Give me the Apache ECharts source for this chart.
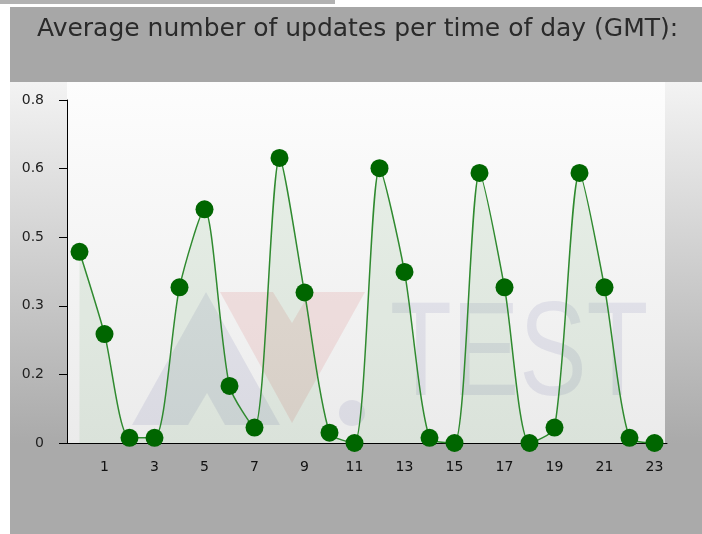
<!DOCTYPE html>
<html>
<head>
<meta charset="utf-8">
<style>
  html, body { margin: 0; padding: 0; background: #fff; }
  #chart { width: 702px; height: 534px; }
</style>
<script src="https://cdn.jsdelivr.net/npm/echarts@6/dist/echarts.min.js"></script>
</head>
<body>
<div id="chart"></div>
<script>
  // hours of the day (GMT)
  const hours = ['0', '1', '2', '3', '4', '5', '6', '7', '8', '9', '10', '11',
    '12', '13', '14', '15', '16', '17', '18', '19', '20', '21', '22', '23']
  // average number of updates per hour
  const updates = [0.446, 0.254, 0.012, 0.012, 0.363, 0.545, 0.133, 0.036,
    0.665, 0.351, 0.024, 0, 0.641, 0.399, 0.012, 0, 0.630, 0.363, 0, 0.036,
    0.630, 0.363, 0.012, 0]
  const yMax = 0.8
  const yStep = 0.16

  const chart = echarts.init(document.getElementById('chart'))

  const wmBlue = 'rgba(120,120,175,0.15)'
  const wmRed = 'rgba(215,90,90,0.14)'

  // background panels and the faint AV-TEST watermark
  const decor = [
    { type: 'rect', z: -5, shape: { x: 0, y: 0, width: 335, height: 4 }, style: { fill: '#b2b2b2' } },
    { type: 'rect', z: -5, shape: { x: 10, y: 7, width: 692, height: 75 }, style: { fill: '#a7a7a7' } },
    {
      type: 'rect', z: -5, shape: { x: 10, y: 82, width: 692, height: 452 },
      style: {
        fill: new echarts.graphic.LinearGradient(0, 0, 0, 1, [
          { offset: 0, color: '#f3f3f3' },
          { offset: 0.8, color: '#aaaaaa' },
          { offset: 1, color: '#aaaaaa' }
        ])
      }
    },
    {
      type: 'rect', z: -4, shape: { x: 67, y: 82, width: 598, height: 361 },
      style: {
        fill: new echarts.graphic.LinearGradient(0, 0, 0, 1, [
          { offset: 0, color: '#fdfdfd' },
          { offset: 1, color: '#ebebeb' }
        ])
      }
    },
    {
      type: 'polygon', z: -3,
      shape: { points: [[132, 425], [206, 292], [280, 425], [225, 425], [207, 393], [188, 425]] },
      style: { fill: wmBlue }
    },
    {
      type: 'polygon', z: -3,
      shape: { points: [[220, 292], [273, 292], [292, 323], [310, 292], [365, 292], [292, 423]] },
      style: { fill: wmRed }
    },
    { type: 'circle', z: -3, shape: { cx: 352, cy: 413, r: 13 }, style: { fill: wmBlue } },
    {
      type: 'text', z: -3, x: 390, y: 425, scaleX: 0.76,
      style: {
        text: 'TEST', fontFamily: 'Liberation Sans', fontSize: 133,
        fill: wmBlue, verticalAlign: 'bottom'
      }
    }
  ]

  const option = {
    animation: false,
    title: {
      text: 'Average number of updates per time of day (GMT):',
      left: 32,
      top: 12,
      padding: 5,
      textStyle: {
        fontFamily: 'DejaVu Sans',
        fontSize: 25,
        fontWeight: 'normal',
        color: '#2a2a2a'
      }
    },
    graphic: decor,
    grid: {
      left: 67,
      right: 35,
      top: 100,
      bottom: 91,
      containLabel: false
    },
    xAxis: {
      type: 'category',
      data: hours,
      boundaryGap: true,
      axisLine: { lineStyle: { color: '#000', width: 1 } },
      axisTick: {
        alignWithLabel: true,
        length: 8,
        interval: function (i) { return i % 2 === 1 },
        lineStyle: { color: '#000' }
      },
      axisLabel: {
        interval: function (i) { return i % 2 === 1 },
        margin: 17,
        fontFamily: 'DejaVu Sans',
        fontSize: 14,
        color: '#111'
      },
      splitLine: { show: false }
    },
    yAxis: {
      type: 'value',
      min: 0,
      max: yMax,
      interval: yStep,
      axisLine: { show: true, lineStyle: { color: '#000', width: 1 } },
      axisTick: { show: true, length: 8, lineStyle: { color: '#000' } },
      axisLabel: {
        margin: 23,
        fontFamily: 'DejaVu Sans',
        fontSize: 14,
        color: '#222',
        formatter: function (v) { return v === 0 ? '0' : v.toFixed(1) }
      },
      splitLine: { show: false }
    },
    series: [{
      type: 'line',
      data: updates,
      smooth: 0.25,
      symbol: 'circle',
      symbolSize: 18,
      showSymbol: true,
      showAllSymbol: true,
      itemStyle: { color: '#006600' },
      lineStyle: { color: '#2f8a2f', width: 1.5 },
      areaStyle: { color: 'rgba(0,110,0,0.1)' }
    }]
  }

  chart.setOption(option)
</script>
</body>
</html>
